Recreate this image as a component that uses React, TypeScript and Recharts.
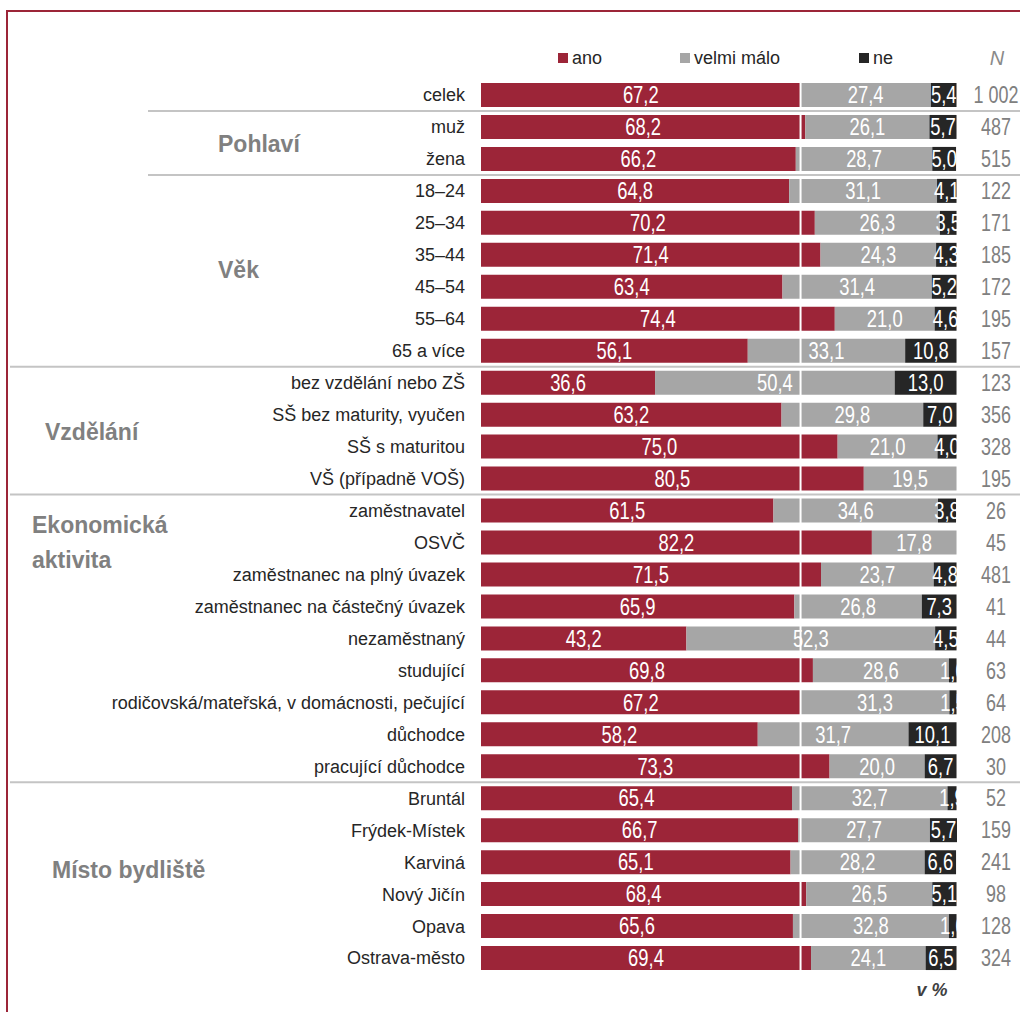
import React from 'react';
import { BarChart, Bar, XAxis, YAxis, LabelList, ReferenceLine } from 'recharts';

// categories, top to bottom
const categories = [
  'celek', 'muž', 'žena',
  '18–24', '25–34', '35–44', '45–54', '55–64', '65 a více',
  'bez vzdělání nebo ZŠ', 'SŠ bez maturity, vyučen', 'SŠ s maturitou', 'VŠ (případně VOŠ)',
  'zaměstnavatel', 'OSVČ', 'zaměstnanec na plný úvazek', 'zaměstnanec na částečný úvazek',
  'nezaměstnaný', 'studující', 'rodičovská/mateřská, v domácnosti, pečující', 'důchodce',
  'pracující důchodce',
  'Bruntál', 'Frýdek-Místek', 'Karviná', 'Nový Jičín', 'Opava', 'Ostrava-město',
];

const ano = [
  67.2, 68.2, 66.2, 64.8, 70.2, 71.4, 63.4, 74.4, 56.1, 36.6, 63.2, 75.0, 80.5, 61.5,
  82.2, 71.5, 65.9, 43.2, 69.8, 67.2, 58.2, 73.3, 65.4, 66.7, 65.1, 68.4, 65.6, 69.4,
];
const velmiMalo = [
  27.4, 26.1, 28.7, 31.1, 26.3, 24.3, 31.4, 21.0, 33.1, 50.4, 29.8, 21.0, 19.5, 34.6,
  17.8, 23.7, 26.8, 52.3, 28.6, 31.3, 31.7, 20.0, 32.7, 27.7, 28.2, 26.5, 32.8, 24.1,
];
const ne = [
  5.4, 5.7, 5.0, 4.1, 3.5, 4.3, 5.2, 4.6, 10.8, 13.0, 7.0, 4.0, 0, 3.8,
  0, 4.8, 7.3, 4.5, 1.6, 1.5, 10.1, 6.7, 1.9, 5.7, 6.6, 5.1, 1.6, 6.5,
];
const respondents = [
  '1 002', '487', '515', '122', '171', '185', '172', '195', '157', '123', '356', '328', '195', '26',
  '45', '481', '41', '44', '63', '64', '208', '30', '52', '159', '241', '98', '128', '324',
];

// rows where a new group starts, and how far left its separator reaches
const groupStarts: Record<number, number> = { 1: 148, 3: 148, 9: 10, 13: 10, 22: 10 };

const data = categories.map((name, i) => ({
  name,
  ano: ano[i],
  velmiMalo: velmiMalo[i],
  ne: ne[i],
}));

const W = 1020;
const H = 1012;
const TOP = 79;
const BOTTOM = 38;
const ROW = (H - TOP - BOTTOM) / categories.length;

const RED = '#9c2538';
const GREY = '#a6a6a6';
const DARK = '#262626';
const FONT = '"Liberation Sans", Arial, sans-serif';

const fmt = (v: number) => v.toFixed(1).replace('.', ',');

const CategoryTick = (props: any) => {
  const { y, payload, index } = props;
  const sepX = groupStarts[index];
  return (
    <g>
      {sepX !== undefined && (
        <line x1={sepX} x2={W} y1={y - ROW / 2} y2={y - ROW / 2} stroke="#c4c4c4" strokeWidth={2} />
      )}
      <text x={465} y={y} dy="0.36em" textAnchor="end" fontSize={18} fill="#262626" fontFamily={FONT}>
        {payload.value}
      </text>
      <text
        transform={`translate(996 ${y}) scale(0.78 1)`}
        dy="0.36em"
        textAnchor="middle"
        fontSize={23}
        fill="#808080"
        fontFamily={FONT}
      >
        {respondents[index]}
      </text>
    </g>
  );
};

const SegmentLabel = (props: any) => {
  const box = props.viewBox ?? props;
  const { x, y, width, height } = box;
  const value = props.value;
  if (!value) return null;
  return (
    <text
      transform={`translate(${x + width / 2} ${y + height / 2}) scale(0.8 1)`}
      dy="0.36em"
      textAnchor="middle"
      fontSize={23}
      fill="#fff"
      fontFamily={FONT}
    >
      {fmt(value)}
    </text>
  );
};

const groupLabels = [
  { lines: ['Pohlaví'], x: 218, y: 152 },
  { lines: ['Věk'], x: 218, y: 278 },
  { lines: ['Vzdělání'], x: 45, y: 440 },
  { lines: ['Ekonomická', 'aktivita'], x: 32, y: 533 },
  { lines: ['Místo bydliště'], x: 52, y: 878 },
];

const legendItems = [
  { label: 'ano', color: RED, x: 558 },
  { label: 'velmi málo', color: GREY, x: 680 },
  { label: 'ne', color: DARK, x: 859 },
];

export default function App() {
  return (
    <div
      style={{
        position: 'absolute',
        left: 0,
        top: 0,
        width: W,
        height: H,
        overflow: 'hidden',
        background: '#fff',
      }}
    >
      <div
        style={{
          position: 'absolute',
          left: 6,
          top: 10,
          width: 1200,
          height: 1200,
          borderLeft: `2px solid ${RED}`,
          borderTop: `2px solid ${RED}`,
        }}
      />
      <div style={{ position: 'absolute', left: 0, top: 0 }}>
        <BarChart
          width={W}
          height={H}
          data={data}
          layout="vertical"
          margin={{ top: TOP, right: 63, bottom: BOTTOM, left: 0 }}
        >
          <XAxis type="number" domain={[0, 100]} hide />
          <YAxis
            type="category"
            dataKey="name"
            width={481}
            axisLine={false}
            tickLine={false}
            interval={0}
            tick={<CategoryTick />}
          />
          <Bar dataKey="ano" stackId="a" fill={RED} barSize={24} isAnimationActive={false}>
            <LabelList dataKey="ano" content={<SegmentLabel />} />
          </Bar>
          <Bar dataKey="velmiMalo" stackId="a" fill={GREY} barSize={24} isAnimationActive={false}>
            <LabelList dataKey="velmiMalo" content={<SegmentLabel />} />
          </Bar>
          <Bar dataKey="ne" stackId="a" fill={DARK} barSize={24} isAnimationActive={false}>
            <LabelList dataKey="ne" content={<SegmentLabel />} />
          </Bar>
          <ReferenceLine x={ano[0]} stroke="#fff" strokeWidth={2} />
        </BarChart>
      </div>
      <svg
        width={W}
        height={H}
        style={{ position: 'absolute', left: 0, top: 0, pointerEvents: 'none' }}
        fontFamily={FONT}
      >
        {groupLabels.map((g) =>
          g.lines.map((line, j) => (
            <text key={line} x={g.x} y={g.y + j * 35} fontSize={23} fontWeight="bold" fill="#808080">
              {line}
            </text>
          ))
        )}
        {legendItems.map((item) => (
          <g key={item.label}>
            <rect x={item.x} y={53} width={10} height={10} fill={item.color} />
            <text x={item.x + 14} y={64} fontSize={18} fill="#262626">
              {item.label}
            </text>
          </g>
        ))}
        <text x={997} y={65} fontSize={20} fontStyle="italic" fill="#8a8a8a" textAnchor="middle">
          N
        </text>
        <text x={932} y={996} fontSize={18} fontStyle="italic" fontWeight="bold" fill="#404040" textAnchor="middle">
          v %
        </text>
      </svg>
    </div>
  );
}
